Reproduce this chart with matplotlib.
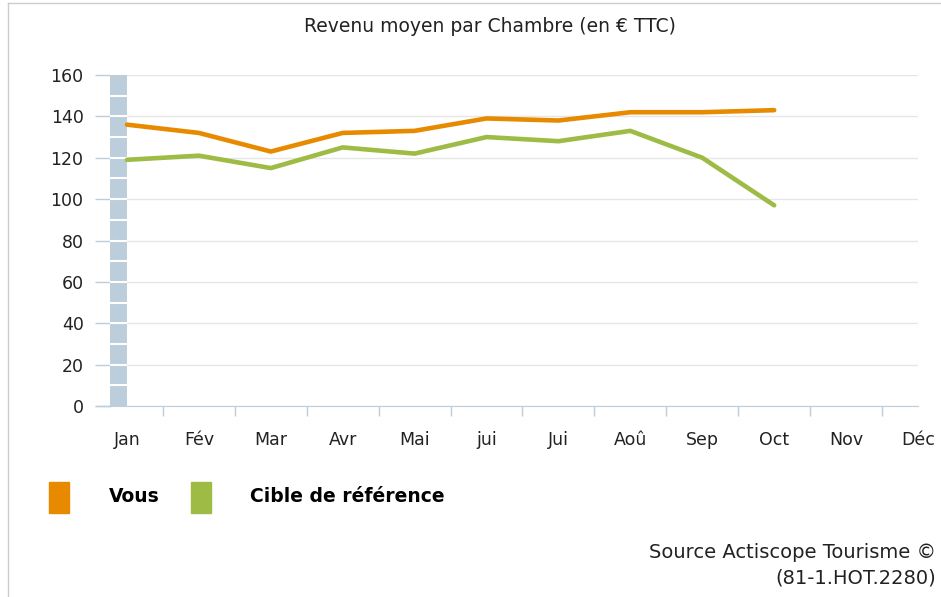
import matplotlib.pyplot as plt
from matplotlib.patches import Rectangle
from matplotlib.lines import Line2D

months = ['Jan', 'Fév', 'Mar', 'Avr', 'Mai', 'jui', 'Jui', 'Aoû', 'Sep', 'Oct', 'Nov', 'Déc']
vous = [136, 132, 123, 132, 133, 139, 138, 142, 142, 143]
cible = [119, 121, 115, 125, 122, 130, 128, 133, 120, 97]
yticks = [0, 20, 40, 60, 80, 100, 120, 140, 160]

orange = '#E88A00'
green = '#9DBB45'
wall = '#BCCDDC'

fig = plt.figure(figsize=(9.41, 5.97), dpi=100)
ax = fig.add_axes([110 / 941, 1 - 406 / 597, (918 - 110) / 941, (406 - 75) / 597])

# 3d-style wall on the left
ax.axvspan(-0.236, 0, color=wall, zorder=2, lw=0)
ax.hlines(range(10, 160, 10), -0.236, 0, color='white', lw=1.5, zorder=3)

x = list(range(len(vous)))
ax.plot(x, vous, color=orange, lw=3.3, solid_capstyle='round', zorder=4)
ax.plot(x, cible, color=green, lw=3.3, solid_capstyle='round', zorder=4)

ax.set_xlim(-0.236, 10.97)
ax.set_ylim(0, 160)
ax.set_yticks(yticks)
ax.grid(axis='y', color='#E6E6E6', lw=1, zorder=1)
ax.set_axisbelow(True)

ax.set_xticks(range(12))
ax.set_xticklabels(months)
ax.set_xticks([i + 0.5 for i in range(11)], minor=True)
ax.tick_params(axis='x', which='major', length=0, pad=18, labelsize=12.5, labelcolor='#222222')
ax.tick_params(axis='x', which='minor', length=7, color=wall, width=1)
ax.tick_params(axis='y', length=11, color=wall, width=1, pad=8, labelsize=12.5, labelcolor='#222222')
for lab in ax.get_xticklabels():
    lab.set_clip_on(False)

for s in ['left', 'top', 'right']:
    ax.spines[s].set_visible(False)
ax.spines['bottom'].set_color(wall)
# base line continues a little left of the wall
fig.lines.append(Line2D([96 / 941, 110 / 941], [1 - 406 / 597, 1 - 406 / 597],
                        transform=fig.transFigure, color=wall, lw=1))

fig.text(490 / 941, 1 - 27 / 597, 'Revenu moyen par Chambre (en € TTC)',
         ha='center', va='center', fontsize=13.5, color='#222222')

# legend
fig.patches.append(Rectangle((49 / 941, 1 - 513 / 597), 20 / 941, 31 / 597,
                             transform=fig.transFigure, color=orange))
fig.patches.append(Rectangle((191 / 941, 1 - 513 / 597), 20 / 941, 31 / 597,
                             transform=fig.transFigure, color=green))
fig.text(109 / 941, 1 - 497 / 597, 'Vous', ha='left', va='center',
         fontsize=13.5, fontweight='bold')
fig.text(250 / 941, 1 - 497 / 597, 'Cible de référence', ha='left', va='center',
         fontsize=13.5, fontweight='bold')

fig.text(936 / 941, 1 - 553 / 597, 'Source Actiscope Tourisme ©', ha='right',
         va='center', fontsize=14, color='#222222')
fig.text(936 / 941, 1 - 578 / 597, '(81-1.HOT.2280)', ha='right',
         va='center', fontsize=14, color='#222222')

# frame lines of the original widget
fig.lines.append(Line2D([8 / 941, 8 / 941], [0, 1 - 3 / 597], transform=fig.transFigure,
                        color='#CCCCCC', lw=1))
fig.lines.append(Line2D([8 / 941, 1], [1 - 3 / 597, 1 - 3 / 597], transform=fig.transFigure,
                        color='#CCCCCC', lw=1))

fig.savefig('out.png', dpi=100)
